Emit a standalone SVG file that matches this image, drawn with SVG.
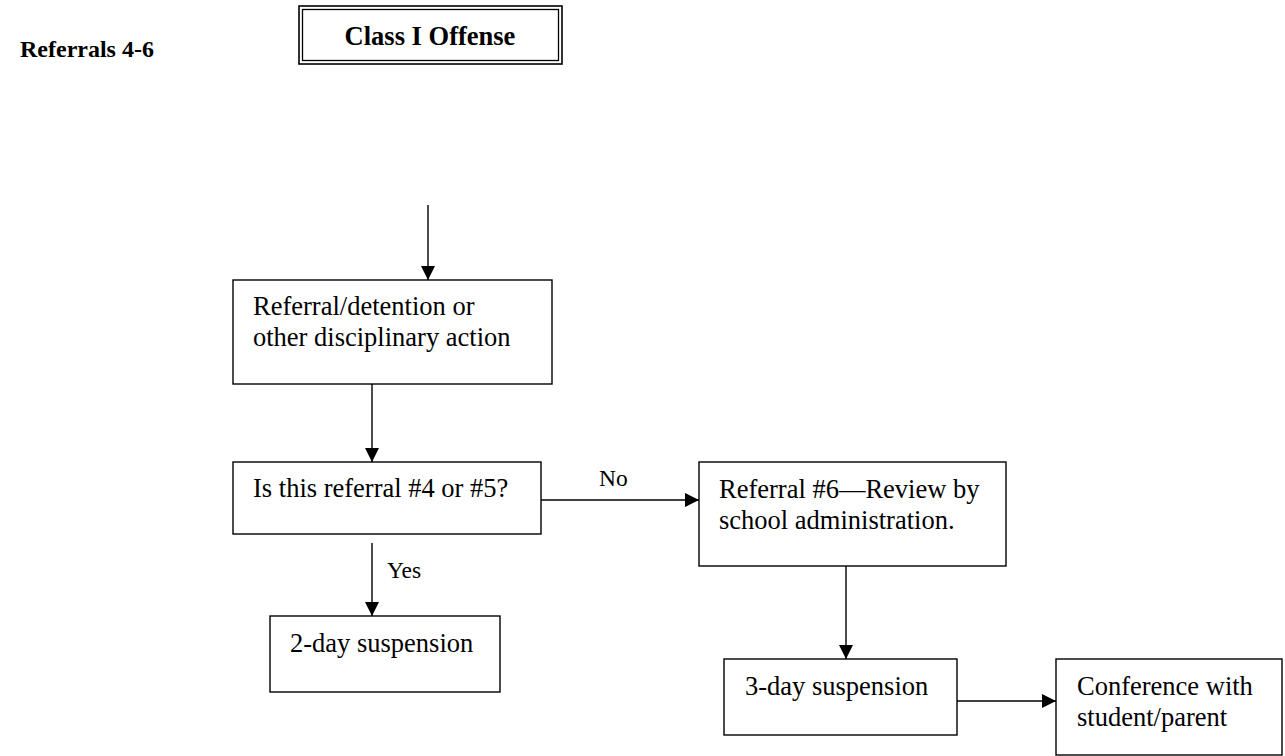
<svg xmlns="http://www.w3.org/2000/svg" width="1285" height="756" viewBox="0 0 1285 756">
<defs>
<style>
.box{fill:#fff;stroke:#000;stroke-width:1.4}
.t{font-family:"Liberation Serif","Times New Roman",serif;font-size:26.5px;fill:#000}
.lbl{font-family:"Liberation Serif","Times New Roman",serif;font-size:23.5px;fill:#000}
.b{font-family:"Liberation Serif","Times New Roman",serif;font-weight:bold;font-size:26.5px;fill:#000}
.c{fill:none;stroke:#000;stroke-width:1.4}
</style>
<marker id="ah" markerUnits="userSpaceOnUse" markerWidth="15" markerHeight="15" refX="14" refY="7" orient="auto">
<path d="M0,0 L14,7 L0,14 z" fill="#000"/>
</marker>
</defs>
<rect width="1285" height="756" fill="#fff"/>
<text class="b" x="20" y="57" style="font-size:24px">Referrals 4-6</text>
<g id="class1">
<rect x="299" y="6" width="263" height="58" fill="#fff" stroke="#000" stroke-width="1.6"/>
<rect x="302.5" y="9.5" width="256" height="51" fill="none" stroke="#000" stroke-width="1.3"/>
<text class="b" x="430" y="45" text-anchor="middle">Class I Offense</text>
</g>
<g id="connectors">
<line class="c" x1="428" y1="205" x2="428" y2="280" marker-end="url(#ah)"/>
<line class="c" x1="372" y1="384" x2="372" y2="462" marker-end="url(#ah)"/>
<line class="c" x1="541" y1="500" x2="699" y2="500" marker-end="url(#ah)"/>
<line class="c" x1="372" y1="543" x2="372" y2="616" marker-end="url(#ah)"/>
<line class="c" x1="846" y1="566" x2="846" y2="659" marker-end="url(#ah)"/>
<line class="c" x1="957" y1="701" x2="1056" y2="701" marker-end="url(#ah)"/>
<text class="lbl" x="599" y="486">No</text>
<text class="lbl" x="387" y="578">Yes</text>
</g>
<g id="n1">
<rect class="box" x="233" y="280" width="319" height="104"/>
<text class="t" x="253" y="315">Referral/detention or</text>
<text class="t" x="253" y="346">other disciplinary action</text>
</g>
<g id="n2">
<rect class="box" x="233" y="462" width="308" height="72"/>
<text class="t" x="253" y="497">Is this referral #4 or #5?</text>
</g>
<g id="n3">
<rect class="box" x="699" y="462" width="307" height="104"/>
<text class="t" x="719" y="498">Referral #6—Review by</text>
<text class="t" x="719" y="529">school administration.</text>
</g>
<g id="n4">
<rect class="box" x="270" y="616" width="230" height="76"/>
<text class="t" x="290" y="652">2-day suspension</text>
</g>
<g id="n5">
<rect class="box" x="724" y="659" width="233" height="76"/>
<text class="t" x="745" y="695">3-day suspension</text>
</g>
<g id="n6">
<rect class="box" x="1056" y="659" width="226" height="96"/>
<text class="t" x="1077" y="695">Conference with</text>
<text class="t" x="1077" y="726">student/parent</text>
</g>
</svg>
